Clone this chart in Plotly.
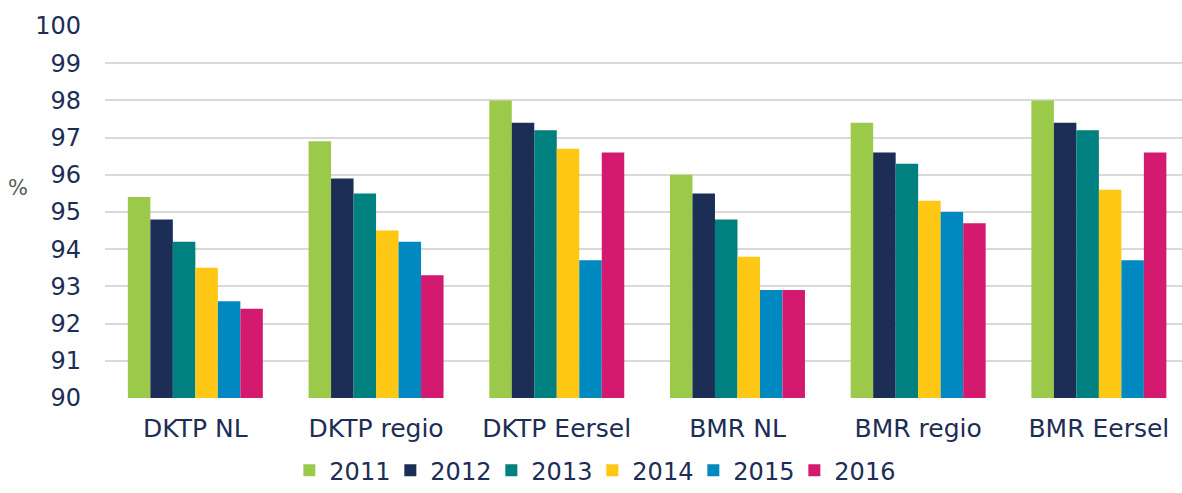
import plotly.graph_objects as go

categories = ["DKTP NL", "DKTP regio", "DKTP Eersel", "BMR NL", "BMR regio", "BMR Eersel"]
years = ["2011", "2012", "2013", "2014", "2015", "2016"]
v2011 = [95.4, 96.9, 98.0, 96.0, 97.4, 98.0]
v2012 = [94.8, 95.9, 97.4, 95.5, 96.6, 97.4]
v2013 = [94.2, 95.5, 97.2, 94.8, 96.3, 97.2]
v2014 = [93.5, 94.5, 96.7, 93.8, 95.3, 95.6]
v2015 = [92.6, 94.2, 93.7, 92.9, 95.0, 93.7]
v2016 = [92.4, 93.3, 96.6, 92.9, 94.7, 96.6]
series = [v2011, v2012, v2013, v2014, v2015, v2016]
colors = ["#9BCA4B", "#1C2D56", "#00807E", "#FEC713", "#0089C0", "#D31A6F"]

TEXT = "#1C2D56"
FONT = "DejaVu Sans"

fig = go.Figure()
for name, vals, col in zip(years, series, colors):
    fig.add_trace(go.Bar(
        x=categories, y=[v - 90 for v in vals], base=90, name=name,
        marker=dict(color=col, line=dict(width=0)),
    ))

fig.update_layout(
    width=1182, height=493,
    margin=dict(l=105, r=0, t=26, b=95, autoexpand=False),
    paper_bgcolor="white", plot_bgcolor="white",
    barmode="group", bargap=0.253, bargroupgap=0,
    font=dict(family=FONT, size=24, color=TEXT),
    showlegend=True,
    legend=dict(orientation="h", x=0.4525, xanchor="center", y=-0.2555, yanchor="bottom",
                font=dict(family=FONT, size=24, color=TEXT), itemwidth=30,
                entrywidth=56, traceorder="normal"),
    xaxis=dict(range=[-0.5, 5.46], showgrid=False, showline=False, ticks="",
               tickfont=dict(family=FONT, size=25, color=TEXT), ticklabelstandoff=13),
    yaxis=dict(range=[90, 100], dtick=1, tick0=90, showgrid=True, gridcolor="#D9D9D9",
               gridwidth=1.5, zeroline=False, showline=False, ticks="",
               tickfont=dict(family=FONT, size=24, color=TEXT), ticklabelstandoff=23),
)
fig.add_annotation(text="%", xref="paper", yref="paper", x=-0.0812, y=0.5655,
                   xanchor="center", yanchor="middle", showarrow=False,
                   font=dict(family=FONT, size=21, color="#595959"))

fig.write_html("out.html", config={"displayModeBar": False},
               post_script="document.body.style.margin='0';")
